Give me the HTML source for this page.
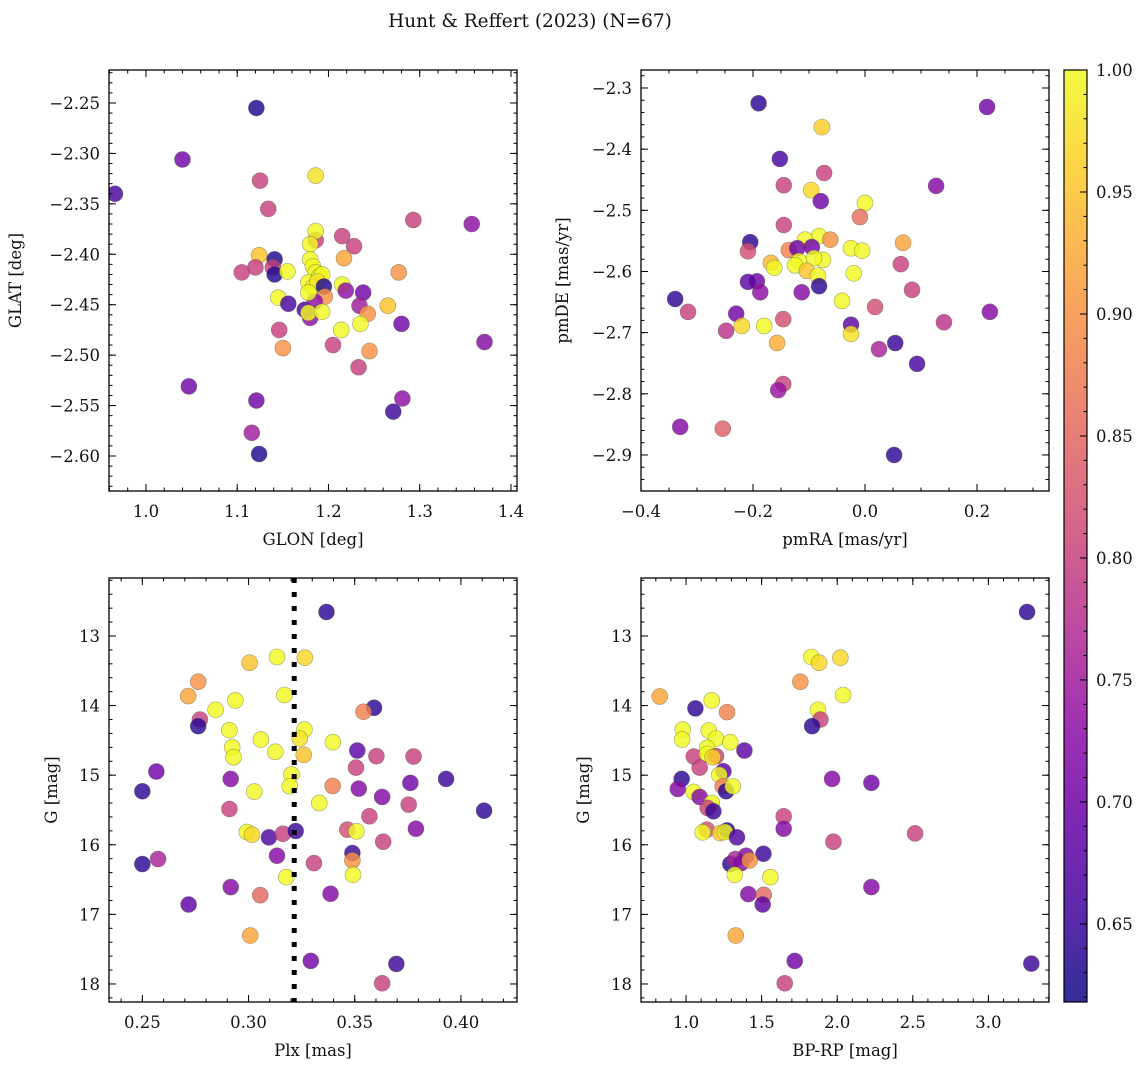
<!DOCTYPE html>
<html><head><meta charset="utf-8"><style>
html,body{margin:0;padding:0;background:#fff;}
svg{display:block;font-family:"DejaVu Serif","Liberation Serif",serif;}
</style></head><body>
<svg id="fig" width="1148" height="1068" viewBox="0 0 1148 1068" xmlns="http://www.w3.org/2000/svg">
<defs>
<linearGradient id="plasmaGrad" x1="0" y1="1" x2="0" y2="0"></linearGradient>
</defs>
<text x="530" y="27" font-size="18.5" text-anchor="middle" fill="#111">Hunt &amp; Reffert (2023) (N=67)</text>
</svg>
<script>
// ---- data ----
const p1Glon = [1.121,1.040,0.966,1.125,1.186,1.134,1.357,1.293,1.215,1.228,1.186,1.186,1.124,1.217,1.141,1.105,1.120,1.139,1.141,1.155,1.180,1.180,1.183,1.186,1.190,1.193,1.178,1.183,1.188,1.277,1.195,1.196,1.215,1.145,1.156,1.174,1.180,1.185,1.178,1.178,1.193,1.219,1.238,1.234,1.243,1.265,1.214,1.235,1.280,1.371,1.146,1.150,1.205,1.245,1.233,1.047,1.281,1.121,1.271,1.116,1.124];
const p1Glat = [-2.255,-2.306,-2.340,-2.327,-2.322,-2.355,-2.370,-2.366,-2.382,-2.392,-2.386,-2.377,-2.401,-2.404,-2.405,-2.418,-2.413,-2.413,-2.420,-2.417,-2.390,-2.405,-2.412,-2.418,-2.422,-2.420,-2.428,-2.433,-2.427,-2.418,-2.432,-2.442,-2.430,-2.443,-2.449,-2.455,-2.463,-2.447,-2.438,-2.458,-2.457,-2.436,-2.438,-2.451,-2.459,-2.451,-2.475,-2.469,-2.469,-2.487,-2.475,-2.493,-2.490,-2.496,-2.512,-2.531,-2.543,-2.545,-2.556,-2.577,-2.598];
const p1Prob = [0.63,0.70,0.66,0.80,0.98,0.80,0.73,0.80,0.80,0.80,0.80,1.0,0.95,0.92,0.63,0.80,0.80,0.80,0.63,1.0,1.0,1.0,1.0,1.0,1.0,1.0,1.0,1.0,0.98,0.90,0.63,0.90,1.0,1.0,0.66,0.66,0.73,0.73,1.0,1.0,1.0,0.73,0.70,0.75,0.90,0.95,1.0,1.0,0.70,0.72,0.80,0.90,0.80,0.90,0.80,0.70,0.73,0.70,0.65,0.75,0.63];

const p2Pmra = [-0.190,0.218,-0.077,-0.152,-0.073,-0.145,0.127,-0.096,0.0,-0.079,-0.009,-0.145,-0.082,-0.107,-0.062,-0.205,0.068,-0.136,-0.121,-0.095,-0.025,-0.005,-0.209,-0.075,-0.118,-0.091,-0.168,-0.125,0.064,-0.162,-0.104,-0.084,-0.193,-0.209,-0.082,-0.187,-0.113,-0.020,0.084,-0.339,-0.041,-0.316,0.223,0.018,0.141,-0.230,-0.220,-0.180,-0.025,-0.025,-0.248,-0.157,0.054,0.025,-0.146,0.093,-0.146,-0.155,-0.330,-0.254,0.052];
const p2Pmde = [-2.325,-2.331,-2.364,-2.416,-2.439,-2.459,-2.460,-2.467,-2.488,-2.485,-2.511,-2.524,-2.542,-2.548,-2.548,-2.552,-2.553,-2.565,-2.562,-2.560,-2.562,-2.566,-2.567,-2.581,-2.583,-2.578,-2.586,-2.590,-2.588,-2.594,-2.599,-2.607,-2.616,-2.617,-2.624,-2.634,-2.634,-2.603,-2.630,-2.645,-2.648,-2.666,-2.666,-2.658,-2.683,-2.669,-2.689,-2.689,-2.687,-2.702,-2.697,-2.717,-2.717,-2.727,-2.678,-2.751,-2.784,-2.794,-2.854,-2.857,-2.900];
const p2Prob = [0.64,0.70,0.96,0.66,0.80,0.80,0.72,0.97,1.0,0.70,0.86,0.80,1.0,1.0,0.90,0.64,0.92,0.88,0.70,0.70,1.0,1.0,0.82,1.0,1.0,1.0,0.94,1.0,0.80,1.0,0.95,1.0,0.70,0.68,0.64,0.73,0.72,1.0,0.80,0.64,1.0,0.80,0.72,0.82,0.78,0.70,0.97,1.0,0.68,0.98,0.78,0.93,0.65,0.76,0.82,0.66,0.80,0.74,0.72,0.84,0.64];

const p3Plx = [0.3367,0.3005,0.3134,0.3265,0.2763,0.2716,0.3169,0.2938,0.2845,0.3591,0.3541,0.2771,0.2763,0.2910,0.3263,0.3241,0.3058,0.3397,0.2923,0.3126,0.2929,0.3260,0.3512,0.3602,0.3777,0.3506,0.2566,0.2916,0.3930,0.3762,0.3202,0.3194,0.2500,0.3027,0.3396,0.3519,0.3629,0.3333,0.3754,0.2910,0.4109,0.3569,0.3788,0.3465,0.3508,0.2992,0.3016,0.3096,0.3162,0.3222,0.3634,0.3489,0.3489,0.3134,0.2500,0.2574,0.3308,0.3492,0.3178,0.2916,0.3055,0.3386,0.2718,0.3008,0.3293,0.3696,0.3629];
const p3G = [12.655,13.384,13.302,13.312,13.657,13.864,13.849,13.926,14.060,14.032,14.089,14.200,14.296,14.353,14.344,14.473,14.488,14.526,14.598,14.665,14.742,14.708,14.646,14.727,14.732,14.891,14.948,15.054,15.054,15.111,14.991,15.159,15.231,15.236,15.155,15.193,15.313,15.399,15.423,15.486,15.510,15.591,15.769,15.783,15.807,15.817,15.855,15.893,15.841,15.802,15.956,16.119,16.225,16.157,16.277,16.205,16.263,16.431,16.465,16.608,16.724,16.704,16.858,17.304,17.669,17.712,17.990];
const p3Prob = [0.64,0.95,1.0,0.97,0.90,0.92,1.0,1.0,1.0,0.64,0.88,0.80,0.64,1.0,1.0,0.98,1.0,1.0,1.0,1.0,1.0,0.95,0.68,0.80,0.80,0.80,0.70,0.72,0.65,0.70,1.0,1.0,0.64,1.0,0.88,0.72,0.72,1.0,0.80,0.80,0.64,0.80,0.72,0.82,1.0,1.0,0.97,0.67,0.80,0.65,0.80,0.65,0.90,0.72,0.64,0.76,0.80,1.0,1.0,0.72,0.85,0.72,0.68,0.92,0.70,0.65,0.80];
const plxCut = [0.3215];

const p4Bprp = [3.256,1.829,1.880,2.021,1.756,0.826,2.039,1.170,1.062,1.271,1.873,1.889,1.834,0.978,0.974,1.150,1.198,1.293,1.386,1.051,1.139,1.139,1.198,1.176,1.090,1.247,1.220,0.971,1.966,2.226,0.945,1.243,1.265,1.309,1.051,1.090,1.170,1.143,1.181,1.646,1.646,2.515,1.137,1.110,1.225,1.271,1.258,1.337,1.975,1.512,1.293,1.326,1.397,1.364,1.421,1.322,1.558,2.226,1.412,1.514,1.507,1.329,1.719,3.284,1.653];
const p4G = [12.655,13.302,13.384,13.312,13.657,13.869,13.849,13.926,14.041,14.094,14.060,14.200,14.296,14.344,14.488,14.358,14.473,14.526,14.646,14.732,14.607,14.694,14.727,14.742,14.891,14.943,14.996,15.054,15.054,15.111,15.198,15.159,15.231,15.159,15.241,15.313,15.399,15.471,15.519,15.591,15.769,15.836,15.783,15.821,15.831,15.793,15.817,15.893,15.956,16.129,16.277,16.205,16.157,16.263,16.225,16.431,16.465,16.608,16.709,16.719,16.858,17.304,17.669,17.707,17.990];
const p4Prob = [0.64,1.0,0.97,0.97,0.90,0.92,1.0,1.0,0.64,0.88,1.0,0.80,0.64,1.0,1.0,1.0,1.0,1.0,0.68,0.80,1.0,1.0,0.80,0.97,0.80,0.68,1.0,0.64,0.72,0.70,0.72,0.88,0.64,1.0,1.0,0.72,1.0,0.80,0.65,0.80,0.72,0.80,0.82,1.0,0.95,0.64,1.0,0.67,0.80,0.65,0.64,0.76,0.72,0.72,0.90,1.0,1.0,0.72,0.72,0.85,0.68,0.92,0.70,0.65,0.80];

// tick label arrays
const p1XTicks = [1.0,1.1,1.2,1.3,1.4];
const p1YTicks = [-2.25,-2.30,-2.35,-2.40,-2.45,-2.50,-2.55,-2.60];
const p2XTicks = [-0.4,-0.2,0.0,0.2];
const p2YTicks = [-2.3,-2.4,-2.5,-2.6,-2.7,-2.8,-2.9];
const p3XTicks = [0.25,0.30,0.35,0.40];
const gTicks = [13,14,15,16,17,18];
const p4XTicks = [1.0,1.5,2.0,2.5,3.0];
const cbTicks = [0.65,0.70,0.75,0.80,0.85,0.90,0.95,1.00];
const cbRange = [0.618, 1.0];

// ---- helpers ----
const NS = "http://www.w3.org/2000/svg";
const fig = document.getElementById('fig');
const FS = 16.5;
const plasma = [[13,8,135],[65,4,157],[106,0,168],[143,13,164],[177,42,144],[204,71,120],[225,100,98],[242,132,75],[252,166,54],[252,206,37],[240,249,33]];
function cmap(p){
  let t=(p-cbRange[0])/(cbRange[1]-cbRange[0]); t=Math.max(0,Math.min(1,t));
  const f=t*10, i=Math.min(9,Math.floor(f)), r=f-i, a=plasma[i], b=plasma[i+1];
  return 'rgb('+[0,1,2].map(k=>Math.round(a[k]+(b[k]-a[k])*r)).join(',')+')';
}
function mk(tag, attrs, parent){
  const e=document.createElementNS(NS,tag);
  for(const k in attrs) e.setAttribute(k,attrs[k]);
  (parent||fig).appendChild(e); return e;
}
function fmt(v,d){ const s=Math.abs(v).toFixed(d); return (v<0?'\u2212':'')+s; }

function panel(c){
  const g=mk('g',{});
  
  
  const sx=v=>c.x0+(v-c.xd[0])/(c.xd[1]-c.xd[0])*(c.x1-c.x0);
  const sy=v=>c.y0+(v-c.yd[0])/(c.yd[1]-c.yd[0])*(c.y1-c.y0);
  const cid='clip-'+c.name;
  const cp=mk('clipPath',{id:cid},g);
  mk('rect',{x:c.x0,y:c.y0,width:c.x1-c.x0,height:c.y1-c.y0},cp);
  const pts=mk('g',{'clip-path':'url(#'+cid+')'},g);
  
  
  const n=Math.min(c.xs.length,c.ys.length,c.ps.length);
  for(let i=0;i<n;i++){
    const pt=mk('circle',{cx:sx(c.xs[i]),cy:sy(c.ys[i]),r:8,fill:cmap(c.ps[i]),'fill-opacity':0.82,stroke:'#5a5a40','stroke-opacity':0.55,'stroke-width':0.6},pts);
    
    
  }
  if(c.vline){ c.vline.forEach(v=>{
    const l=mk('line',{x1:sx(v),x2:sx(v),y1:c.y0,y2:c.y1,stroke:'#000','stroke-width':5,'stroke-dasharray':'5 9'},pts);
    
    
  });}
  const tg=mk('g',{stroke:'#000','stroke-width':1},g);
  function minorRange(d,step){const lo=Math.min(d[0],d[1]),hi=Math.max(d[0],d[1]);const out=[];for(let k=Math.ceil(lo/step-1e-6);k<=Math.floor(hi/step+1e-6);k++)out.push(k*step);return out;}
  minorRange(c.xd,c.xMin).forEach(v=>{const x=sx(v);mk('line',{x1:x,x2:x,y1:c.y1,y2:c.y1-3.5},tg);mk('line',{x1:x,x2:x,y1:c.y0,y2:c.y0+3.5},tg);});
  minorRange(c.yd,c.yMin).forEach(v=>{const y=sy(v);mk('line',{x1:c.x0,x2:c.x0+3.5,y1:y,y2:y},tg);mk('line',{x1:c.x1,x2:c.x1-3.5,y1:y,y2:y},tg);});
  c.xt.forEach(v=>{const x=sx(v);mk('line',{x1:x,x2:x,y1:c.y1,y2:c.y1-7},tg);mk('line',{x1:x,x2:x,y1:c.y0,y2:c.y0+7},tg);
    const t=mk('text',{x:x,y:c.y1+26,'font-size':FS,'text-anchor':'middle',fill:'#111'},g);t.textContent=fmt(v,c.xDec);
    
    });
  c.yt.forEach(v=>{const y=sy(v);mk('line',{x1:c.x0,x2:c.x0+7,y1:y,y2:y},tg);mk('line',{x1:c.x1,x2:c.x1-7,y1:y,y2:y},tg);
    const t=mk('text',{x:c.x0-9,y:y+6,'font-size':FS,'text-anchor':'end',fill:'#111'},g);t.textContent=fmt(v,c.yDec);
    
    });
  const fr=mk('rect',{x:c.x0,y:c.y0,width:c.x1-c.x0,height:c.y1-c.y0,fill:'none',stroke:'#000','stroke-width':1.3},g);
  
  
  const xl=mk('text',{x:(c.x0+c.x1)/2,y:c.y1+54,'font-size':FS,'text-anchor':'middle',fill:'#111'},g);xl.textContent=c.xLabel;
  
  
  const yc=(c.y0+c.y1)/2;
  const yl=mk('text',{x:c.yLabX,y:yc,'font-size':FS,'text-anchor':'middle',fill:'#111',transform:'rotate(-90 '+c.yLabX+' '+yc+')'},g);yl.textContent=c.yLabel;
  
  
}

panel({name:'glon-glat-panel',x0:109,x1:517,y0:70,y1:491,xd:[0.9595,1.4066],yd:[-2.2173,-2.6347],xs:p1Glon,ys:p1Glat,ps:p1Prob,xt:p1XTicks,yt:p1YTicks,xMin:0.02,yMin:0.01,xDec:1,yDec:2,xLabel:'GLON [deg]',yLabel:'GLAT [deg]',yLabX:21});
panel({name:'pm-panel',x0:641,x1:1049,y0:70,y1:491,xd:[-0.4,0.3286],yd:[-2.2706,-2.9589],xs:p2Pmra,ys:p2Pmde,ps:p2Prob,xt:p2XTicks,yt:p2YTicks,xMin:0.05,yMin:0.02,xDec:1,yDec:1,xLabel:'pmRA [mas/yr]',yLabel:'pmDE [mas/yr]',yLabX:568});
panel({name:'plx-g-panel',x0:109,x1:517,y0:578,y1:1002,xd:[0.2343,0.4264],yd:[12.167,18.259],xs:p3Plx,ys:p3G,ps:p3Prob,xt:p3XTicks,yt:gTicks,xMin:0.01,yMin:0.2,xDec:2,yDec:0,xLabel:'Plx [mas]',yLabel:'G [mag]',yLabX:57,vline:plxCut});
panel({name:'cmd-panel',x0:641,x1:1049,y0:578,y1:1002,xd:[0.702,3.401],yd:[12.167,18.259],xs:p4Bprp,ys:p4G,ps:p4Prob,xt:p4XTicks,yt:gTicks,xMin:0.1,yMin:0.2,xDec:1,yDec:0,xLabel:'BP-RP [mag]',yLabel:'G [mag]',yLabX:589});

// colorbar
(function(){
  const grad=document.getElementById('plasmaGrad');
  plasma.forEach((c,i)=>mk('stop',{offset:(i*10)+'%','stop-color':'rgb('+c.join(',')+')','stop-opacity':0.85},grad));
  const x0=1064,x1=1087,y0=70,y1=1002;
  const g=mk('g',{});
  
  
  mk('rect',{x:x0,y:y0,width:x1-x0,height:y1-y0,fill:'url(#plasmaGrad)',stroke:'#000','stroke-width':1.2},g);
  const sy=v=>y1-(v-cbRange[0])/(cbRange[1]-cbRange[0])*(y1-y0);
  for(let k=Math.ceil(cbRange[0]*100);k<=100;k++){const y=sy(k/100);mk('line',{x1:x1,x2:x1-3.5,y1:y,y2:y,stroke:'#000','stroke-width':1},g);}
  cbTicks.forEach(v=>{const y=sy(v);mk('line',{x1:x1,x2:x1-7,y1:y,y2:y,stroke:'#000','stroke-width':1},g);
    const t=mk('text',{x:x1+9,y:y+6,'font-size':FS,fill:'#111'},g);t.textContent=v.toFixed(2);
    
    });
})();
</script>
</body></html>
